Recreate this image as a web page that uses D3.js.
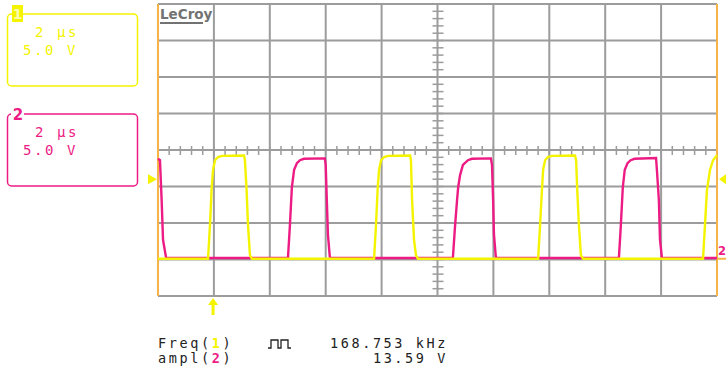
<!DOCTYPE html>
<html>
<head>
<meta charset="utf-8">
<script src="https://cdn.jsdelivr.net/npm/d3@7"></script>
<style>
  body { margin: 0; background: #fff; }
  svg { display: block; }
</style>
</head>
<body>
<svg id="scope" width="726" height="379"></svg>
<script>
// time in us, voltage in V (5 V/div, 2 us/div)
const timeTicks = [0, 2, 4, 6, 8, 10, 12, 14, 16, 18, 20];
const voltTicks = [-20, -15, -10, -5, 0, 5, 10, 15, 20];

// channel 1 (yellow)
const ch1Trace = [
  [0, -14.9], [1.79, -14.9], [1.86, -10.3], [1.92, -5.2], [1.97, -2.7], [2.04, -1.4],
  [2.15, -0.96], [2.29, -0.8], [3.08, -0.75], [3.11, -1.4], [3.17, -5.5], [3.22, -10.3],
  [3.29, -14.4], [3.36, -14.9],
  [7.73, -14.9], [7.80, -10.3], [7.86, -5.2], [7.91, -2.7], [7.98, -1.4], [8.09, -0.96],
  [8.23, -0.8], [9.02, -0.75], [9.05, -1.4], [9.09, -6.8], [9.16, -12.3], [9.23, -14.4],
  [9.30, -14.9],
  [13.60, -14.9], [13.67, -10.3], [13.74, -5.2], [13.78, -2.7], [13.85, -1.4], [13.95, -0.96],
  [14.10, -0.8], [14.92, -0.75], [14.96, -1.4], [15.00, -5.5], [15.06, -10.3], [15.13, -14.4],
  [15.21, -14.9],
  [19.50, -14.9], [19.57, -10.3], [19.64, -5.5], [19.75, -2.7], [19.86, -1.4], [20.0, -0.7]
];

// channel 2 (magenta)
const ch2Trace = [
  [0, -1.2], [0.07, -1.4], [0.13, -6.85], [0.18, -12.3], [0.29, -14.8],
  [4.65, -14.8], [4.72, -10.3], [4.79, -5.1], [4.87, -2.7], [4.97, -1.8], [5.08, -1.4],
  [5.22, -1.2], [5.97, -1.15], [6.00, -2.05], [6.04, -6.85], [6.08, -11.6], [6.15, -14.8],
  [10.55, -14.8], [10.63, -10.3], [10.70, -6.85], [10.74, -5.1], [10.81, -3.4], [10.91, -2.05],
  [11.09, -1.4], [11.23, -1.2], [11.91, -1.15], [11.95, -2.05], [11.99, -6.85], [12.02, -11.6],
  [12.09, -14.8],
  [16.49, -14.8], [16.56, -10.3], [16.63, -5.1], [16.70, -2.7], [16.80, -1.8], [16.91, -1.4],
  [17.05, -1.2], [17.82, -1.1], [17.85, -2.74], [17.92, -6.85], [17.96, -12.3], [18.03, -14.8],
  [20.0, -14.8]
];

const triggerTime = 1.97;
const triggerLevel = -4.0;
const ch2Ground = -14.9;

const channelLabels = [
  { ch: "1", time: "2 \u00b5s", volt: "5.0 V" },
  { ch: "2", time: "2 \u00b5s", volt: "5.0 V" }
];
const measureNames = ["Freq(", "ampl("];
const measureValues = ["168.753 kHz", "13.59 V"];

const YEL = "#f4f400", PINK = "#ec1c84", GRID = "#9c9c9c", ORANGE = "#f6b446";
const mono = "'DejaVu Sans Mono', monospace";

const svg = d3.select("#scope");

const x = d3.scaleLinear().domain([0, 20]).range([158, 717]);
const y = d3.scaleLinear().domain([-20, 20]).range([296, 4]);

// grid
const grid = svg.append("g");
grid.selectAll("line.v").data(timeTicks).join("line")
  .attr("x1", d => x(d)).attr("x2", d => x(d))
  .attr("y1", y(20)).attr("y2", y(-20))
  .attr("stroke", GRID).attr("stroke-width", 2);
grid.selectAll("line.h").data(voltTicks).join("line")
  .attr("x1", x(0)).attr("x2", x(20))
  .attr("y1", d => y(d)).attr("y2", d => y(d))
  .attr("stroke", GRID).attr("stroke-width", 2);

// minor ticks on center axes
const minorT = d3.range(0, 20.01, 0.4);
const minorV = d3.range(-20, 20.01, 1);
grid.selectAll("line.mt").data(minorT).join("line")
  .attr("x1", d => x(d)).attr("x2", d => x(d))
  .attr("y1", y(0) - 4).attr("y2", y(0) + 5)
  .attr("stroke", GRID).attr("stroke-width", 1.5);
grid.selectAll("line.mv").data(minorV).join("line")
  .attr("x1", x(10) - 5).attr("x2", x(10) + 6)
  .attr("y1", d => y(d)).attr("y2", d => y(d))
  .attr("stroke", GRID).attr("stroke-width", 1.5);

// orange side borders on top
grid.selectAll("line.side").data([0, 20]).join("line")
  .attr("x1", d => x(d)).attr("x2", d => x(d))
  .attr("y1", y(20)).attr("y2", y(-20))
  .attr("stroke", ORANGE).attr("stroke-width", 2);

// LeCroy logo
svg.append("text").attr("x", 160).attr("y", 19)
  .attr("font-family", "'DejaVu Sans', sans-serif").attr("font-weight", "bold")
  .attr("font-size", 13.5).attr("fill", "#727272").text("LeCroy");
svg.append("line").attr("x1", 160).attr("x2", 203).attr("y1", 23).attr("y2", 23)
  .attr("stroke", "#727272").attr("stroke-width", 2);

// traces
const line = d3.line().x(d => x(d[0])).y(d => y(d[1]));
svg.append("path").datum(ch2Trace).attr("d", line)
  .attr("fill", "none").attr("stroke", PINK).attr("stroke-width", 2.4);
svg.append("path").datum(ch1Trace).attr("d", line)
  .attr("fill", "none").attr("stroke", YEL).attr("stroke-width", 2.4);

// trigger level arrows
const ty = y(triggerLevel);
svg.append("path").attr("d", `M148,${ty - 5}L157,${ty}L148,${ty + 5}Z`).attr("fill", YEL);
svg.append("path").attr("d", `M726,${ty - 5}L719,${ty}L726,${ty + 5}Z`).attr("fill", YEL);

// ch2 ground marker
const gy = y(ch2Ground);
svg.append("line").attr("x1", 717).attr("x2", 726).attr("y1", gy).attr("y2", gy)
  .attr("stroke", ORANGE).attr("stroke-width", 2);
svg.append("text").attr("x", 718).attr("y", gy - 4)
  .attr("font-family", "'DejaVu Sans', sans-serif").attr("font-weight", "bold")
  .attr("font-size", 11.5).attr("fill", PINK).text("2");

// trigger time arrow
const tx = x(triggerTime);
svg.append("path")
  .attr("d", `M${tx},298L${tx + 5},305L${tx + 1.5},305L${tx + 1.5},315L${tx - 1.5},315L${tx - 1.5},305L${tx - 5},305Z`)
  .attr("fill", YEL);

// channel boxes
const boxTop = [14, 114];
const boxColor = [YEL, PINK];
channelLabels.forEach((c, i) => {
  const g = svg.append("g");
  g.append("rect").attr("x", 7.5).attr("y", boxTop[i]).attr("width", 130).attr("height", 72)
    .attr("rx", 4).attr("fill", "none").attr("stroke", boxColor[i]).attr("stroke-width", 1.5);
  g.append("text").attr("x", 35).attr("y", boxTop[i] + 23)
    .attr("font-family", mono).attr("font-size", 14).attr("letter-spacing", 2.6)
    .attr("fill", boxColor[i]).text(c.time);
  g.append("text").attr("x", 23).attr("y", boxTop[i] + 41)
    .attr("font-family", mono).attr("font-size", 14).attr("letter-spacing", 2.6)
    .attr("fill", boxColor[i]).text(c.volt);
  if (i === 0) {
    g.append("rect").attr("x", 12).attr("y", 5).attr("width", 11).attr("height", 17).attr("fill", YEL);
    g.append("text").attr("x", 17.5).attr("y", 19).attr("text-anchor", "middle")
      .attr("font-family", "'DejaVu Sans', sans-serif").attr("font-weight", "bold")
      .attr("font-size", 14).attr("fill", "#fbfbb0").text(c.ch);
  } else {
    g.append("rect").attr("x", 11).attr("y", 106).attr("width", 13).attr("height", 15).attr("fill", "#fff");
    g.append("text").attr("x", 18).attr("y", 120).attr("text-anchor", "middle")
      .attr("font-family", "'DejaVu Sans', sans-serif").attr("font-weight", "bold")
      .attr("font-size", 15).attr("fill", PINK).text(c.ch);
  }
});

// measurements
const rowY = [348, 363];
measureNames.forEach((n, i) => {
  const t = svg.append("text").attr("x", 158).attr("y", rowY[i])
    .attr("font-family", mono).attr("font-size", 13.5).attr("letter-spacing", 2.6).attr("fill", "#222");
  t.append("tspan").text(n);
  t.append("tspan").attr("fill", i === 0 ? YEL : PINK).attr("font-weight", "bold").text(i === 0 ? "1" : "2");
  t.append("tspan").text(")");
  svg.append("text").attr("x", 448).attr("y", rowY[i]).attr("text-anchor", "end")
    .attr("font-family", mono).attr("font-size", 13.5).attr("letter-spacing", 2.6).attr("fill", "#222")
    .text(measureValues[i]);
});
// square-wave symbol
svg.append("path")
  .attr("d", "M268,348L271,348L271,340L278,340L278,348L281,348L281,340L288,340L288,348L291,348")
  .attr("fill", "none").attr("stroke", "#222").attr("stroke-width", 1.3);
</script>
</body>
</html>
